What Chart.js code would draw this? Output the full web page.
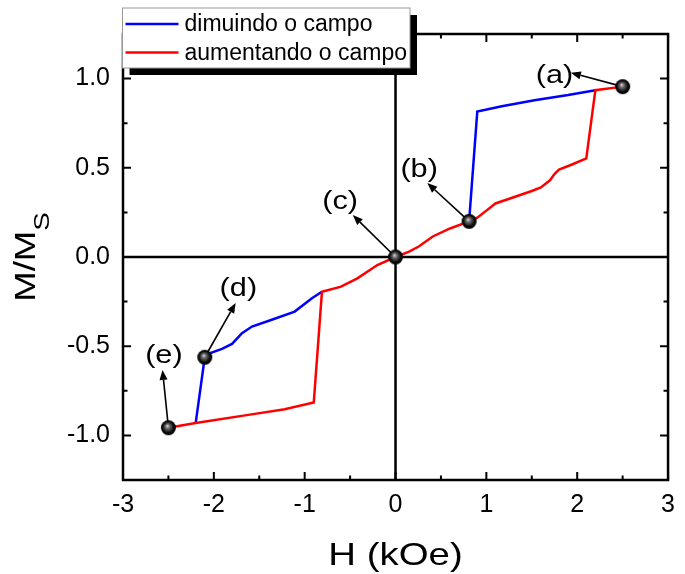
<!DOCTYPE html>
<html><head><meta charset="utf-8">
<script src="https://cdn.jsdelivr.net/npm/chart.js@4/dist/chart.umd.min.js"></script>
<style>html,body{margin:0;padding:0;background:#fff}</style>
</head><body>
<canvas id="c" width="685" height="574"></canvas>
<script>
// ---- data ----
const seriesNames = ['dimuindo o campo', 'aumentando o campo'];
const seriesColors = ['#0000ff', '#ff0000'];

// decreasing field branch (blue); null = gap (hidden under red branch)
const decreasingH = [2.2, 1.9, 1.53, 1.17, 0.9, 0.81, 0, -0.81, -0.92, -1.11, -1.37, -1.58, -1.69, -1.8, -1.91, -2.04, -2.1, -2.2];
const decreasingM = [0.935, 0.908, 0.879, 0.845, 0.815, 0.2, null, -0.195, -0.231, -0.306, -0.353, -0.39, -0.427, -0.487, -0.515, -0.539, -0.562, -0.931];

// increasing field branch (red)
const increasingH = [-2.5, -2.2, -1.62, -1.22, -0.9, -0.81, -0.6, -0.42, -0.2, 0, 0.15, 0.26, 0.41, 0.6, 0.81, 0.9, 1.0, 1.1, 1.3, 1.5, 1.6, 1.7, 1.75, 1.8, 1.95, 2.1, 2.2, 2.5];
const increasingM = [-0.957, -0.931, -0.885, -0.853, -0.816, -0.195, -0.166, -0.12, -0.045, 0, 0.03, 0.06, 0.115, 0.16, 0.2, 0.22, 0.26, 0.3, 0.335, 0.37, 0.39, 0.43, 0.465, 0.49, 0.52, 0.553, 0.935, 0.955];

// marked states
const markLabels = ['(a)', '(b)', '(c)', '(d)', '(e)'];
const markH = [2.5, 0.81, 0, -2.1, -2.5];
const markM = [0.955, 0.2, 0, -0.562, -0.957];
// annotation arrow tips and label anchors (data coordinates)
const arrowTipH = [1.93, 0.35, -0.47, -1.76, -2.565];
const arrowTipM = [1.033, 0.415, 0.235, -0.258, -0.633];
const labelH = [1.75, 0.26, -0.61, -1.73, -2.55];
const labelM = [1.015, 0.488, 0.308, -0.179, -0.555];

// axes
const xTicks = [-3, -2, -1, 0, 1, 2, 3];
const yTicks = [-1, -0.5, 0, 0.5, 1];
const xTitle = 'H (kOe)';
const yTitleMain = 'M/M';
const yTitleSub = 'S';

// ---- helpers ----
const FONT = "'Liberation Sans', Arial, sans-serif";
function pts(h, m) { return h.map((v, i) => ({ x: v, y: m[i] })); }
function makeBall(r) {
  const s = Math.ceil(2 * r + 2);
  const c = document.createElement('canvas'); c.width = s; c.height = s;
  const g = c.getContext('2d');
  const cx = s / 2, cy = s / 2;
  const grad = g.createRadialGradient(cx - r * 0.15, cy - r * 0.25, 0, cx, cy, r);
  grad.addColorStop(0, '#e0e0e0');
  grad.addColorStop(0.3, '#6a6a6a');
  grad.addColorStop(0.75, '#080808');
  grad.addColorStop(1, '#000');
  g.fillStyle = grad; g.beginPath(); g.arc(cx, cy, r, 0, Math.PI * 2); g.fill();
  return c;
}
const ball = makeBall(7.5);

// draw text horizontally stretched (reference glyphs are wide)
function wideText(ctx, text, x, y, stretch) {
  ctx.save();
  ctx.translate(x, y);
  ctx.scale(stretch, 1);
  ctx.fillText(text, 0, 0);
  ctx.restore();
}

const decor = {
  id: 'decor',
  beforeDatasetsDraw(chart) {
    const { ctx, chartArea: a, scales: { x, y } } = chart;
    ctx.save();
    ctx.strokeStyle = '#000'; ctx.lineWidth = 2.5;
    const x0 = x.getPixelForValue(0), y0 = y.getPixelForValue(0);
    ctx.beginPath();
    ctx.moveTo(a.left, y0); ctx.lineTo(a.right, y0);
    ctx.moveTo(x0, a.top); ctx.lineTo(x0, a.bottom);
    ctx.stroke();
    // arrows
    ctx.lineWidth = 1.6; ctx.fillStyle = '#000';
    markH.forEach((h, i) => {
      const sx = x.getPixelForValue(h), sy = y.getPixelForValue(markM[i]);
      const tx = x.getPixelForValue(arrowTipH[i]), ty = y.getPixelForValue(arrowTipM[i]);
      const ang = Math.atan2(ty - sy, tx - sx);
      const L = 10, W = 4;
      const bx = tx - L * Math.cos(ang), by = ty - L * Math.sin(ang);
      ctx.beginPath(); ctx.moveTo(sx, sy); ctx.lineTo(bx, by); ctx.stroke();
      ctx.beginPath();
      ctx.moveTo(tx, ty);
      ctx.lineTo(bx + W * Math.sin(ang), by - W * Math.cos(ang));
      ctx.lineTo(bx - W * Math.sin(ang), by + W * Math.cos(ang));
      ctx.closePath(); ctx.fill();
    });
    ctx.restore();
  },
  afterDatasetsDraw(chart) {
    const { ctx, chartArea: a, scales: { x, y } } = chart;
    ctx.save();
    ctx.strokeStyle = '#000'; ctx.lineWidth = 2.5;
    ctx.strokeRect(a.left, a.top, a.right - a.left, a.bottom - a.top);
    ctx.lineWidth = 2;
    const major = 8, minor = 4.5;
    ctx.beginPath();
    xTicks.forEach((v, i) => {
      const px = x.getPixelForValue(v);
      ctx.moveTo(px, a.bottom); ctx.lineTo(px, a.bottom - major);
      ctx.moveTo(px, a.top); ctx.lineTo(px, a.top + major);
      if (i < xTicks.length - 1) {
        const pm = x.getPixelForValue((v + xTicks[i + 1]) / 2);
        ctx.moveTo(pm, a.bottom); ctx.lineTo(pm, a.bottom - minor);
        ctx.moveTo(pm, a.top); ctx.lineTo(pm, a.top + minor);
      }
    });
    yTicks.forEach((v, i) => {
      const py = y.getPixelForValue(v);
      ctx.moveTo(a.left, py); ctx.lineTo(a.left + major, py);
      ctx.moveTo(a.right, py); ctx.lineTo(a.right - major, py);
      const step = 0.25;
      [v - step, v + step].forEach(m => {
        if (i > 0 && m === v - step) return;
        const pm = y.getPixelForValue(m);
        ctx.moveTo(a.left, pm); ctx.lineTo(a.left + minor, pm);
        ctx.moveTo(a.right, pm); ctx.lineTo(a.right - minor, pm);
      });
    });
    ctx.stroke();
    // annotation labels
    ctx.fillStyle = '#000';
    ctx.font = '26px ' + FONT;
    ctx.textAlign = 'center'; ctx.textBaseline = 'middle';
    markLabels.forEach((t, i) => {
      wideText(ctx, t, x.getPixelForValue(labelH[i]), y.getPixelForValue(labelM[i]), 1.18);
    });
    ctx.restore();
  },
  afterDraw(chart) {
    const { ctx, chartArea: a } = chart;
    ctx.save();
    // legend with shadow
    const lx = 122.5, ly = 8, lw = 287.5, lh = 60;
    ctx.fillStyle = '#000';
    ctx.fillRect(lx + 7, ly + 7, lw, lh);
    ctx.fillStyle = '#fff';
    ctx.fillRect(lx, ly, lw, lh);
    ctx.strokeStyle = '#999'; ctx.lineWidth = 1;
    ctx.strokeRect(lx, ly, lw, lh);
    ctx.font = '23px ' + FONT; ctx.textAlign = 'left'; ctx.textBaseline = 'middle';
    chart.data.datasets.slice(0, 2).forEach((ds, i) => {
      const yy = ly + 16 + i * 28.5;
      ctx.strokeStyle = ds.borderColor; ctx.lineWidth = 2.5;
      ctx.beginPath(); ctx.moveTo(lx + 3, yy); ctx.lineTo(lx + 56, yy); ctx.stroke();
      ctx.fillStyle = '#000';
      ctx.fillText(ds.label, lx + 62, yy + 1);
    });
    // axis titles
    ctx.fillStyle = '#000';
    ctx.font = '32px ' + FONT; ctx.textAlign = 'center'; ctx.textBaseline = 'alphabetic';
    wideText(ctx, xTitle, (a.left + a.right) / 2, 565, 1.2);
    // y title, rotated, stretched along the text direction
    ctx.translate(35, (a.top + a.bottom) / 2);
    ctx.rotate(-Math.PI / 2);
    ctx.scale(1.26, 1);
    ctx.font = '29px ' + FONT;
    const w1 = ctx.measureText(yTitleMain).width;
    ctx.font = '22px ' + FONT;
    const w2 = ctx.measureText(yTitleSub).width;
    const start = -(w1 + w2) / 2;
    ctx.textAlign = 'left';
    ctx.font = '29px ' + FONT;
    ctx.fillText(yTitleMain, start, 0);
    ctx.font = '22px ' + FONT;
    ctx.fillText(yTitleSub, start + w1, 14);
    ctx.restore();
  }
};

new Chart(document.getElementById('c'), {
  type: 'line',
  data: {
    datasets: [
      { label: seriesNames[0], data: pts(decreasingH, decreasingM), borderColor: seriesColors[0], borderWidth: 2.5, pointRadius: 0, fill: false, spanGaps: false, order: 2, tension: 0 },
      { label: seriesNames[1], data: pts(increasingH, increasingM), borderColor: seriesColors[1], borderWidth: 2.5, pointRadius: 0, fill: false, order: 1, tension: 0 },
      { label: 'marks', type: 'scatter', data: pts(markH, markM), pointStyle: ball, pointRadius: 7.5, order: 0 }
    ]
  },
  options: {
    responsive: false,
    animation: false,
    devicePixelRatio: 1,
    layout: { padding: { top: 34, right: 10, left: 0, bottom: 0 } },
    plugins: { legend: { display: false }, tooltip: { enabled: false } },
    scales: {
      x: {
        type: 'linear', min: -3, max: 3,
        afterBuildTicks: s => { s.ticks = xTicks.map(v => ({ value: v })); },
        afterFit: s => { s.height = 94; },
        grid: { display: false, drawTicks: false },
        border: { display: false },
        ticks: { padding: 10, color: '#000', font: { family: FONT, size: 25 }, callback: v => String(v) }
      },
      y: {
        type: 'linear', min: -1.25, max: 1.25,
        afterBuildTicks: s => { s.ticks = yTicks.map(v => ({ value: v })); },
        afterFit: s => { s.width = 123; },
        grid: { display: false, drawTicks: false },
        border: { display: false },
        ticks: { padding: 13, color: '#000', font: { family: FONT, size: 25 }, callback: v => v.toFixed(1) }
      }
    }
  },
  plugins: [decor]
});
</script>
</body></html>
